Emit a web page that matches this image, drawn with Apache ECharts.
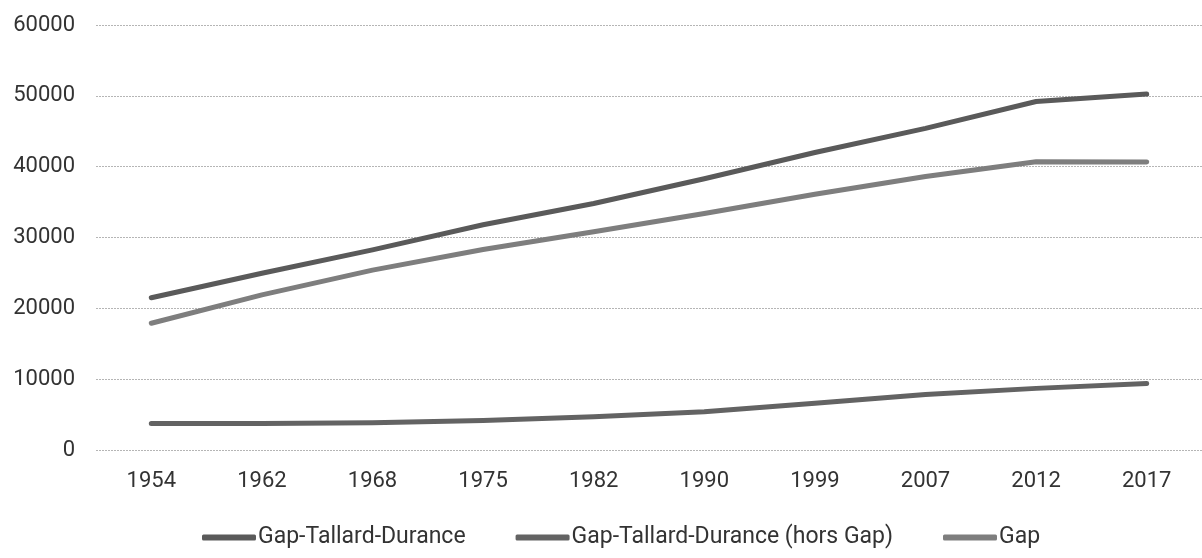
<!DOCTYPE html>
<html>
<head>
<meta charset="utf-8">
<script src="https://cdn.jsdelivr.net/npm/echarts@6/dist/echarts.min.js"></script>
<style>
html,body{margin:0;padding:0;background:#fff;}
#c{width:1202px;height:558px;}
</style>
</head>
<body>
<div id="c"></div>
<script>
const years = ['1954','1962','1968','1975','1982','1990','1999','2007','2012','2017'];
const gapTallardDurance = [21500, 24950, 28250, 31800, 34800, 38300, 42000, 45400, 49200, 50250];
const horsGap = [3750, 3750, 3850, 4150, 4700, 5400, 6600, 7850, 8700, 9400];
const gap = [17900, 21900, 25400, 28300, 30800, 33400, 36100, 38600, 40700, 40650];
const seriesNames = ['Gap-Tallard-Durance', 'Gap-Tallard-Durance (hors Gap)', 'Gap'];

const chart = echarts.init(document.getElementById('c'), null, {renderer:'canvas'});
const font = 'Roboto, "Open Sans", sans-serif';
function line(name, data, color){
  return {
    name, type:'line', data, symbol:'none', smooth:false,
    lineStyle:{width:5, color, cap:'round', join:'round'},
    itemStyle:{color},
    emphasis:{disabled:true}
  };
}
chart.setOption({
  animation:false,
  backgroundColor:'#fff',
  grid:{left:96, top:25, width:1117, height:425, containLabel:false},
  xAxis:{
    type:'category', data:years, boundaryGap:true,
    axisLine:{show:false}, axisTick:{show:false},
    axisLabel:{color:'#333', fontSize:22, fontFamily:font, margin:20}
  },
  yAxis:{
    type:'value', min:0, max:60000, interval:10000,
    axisLine:{show:false}, axisTick:{show:false},
    axisLabel:{color:'#333', fontSize:22, fontFamily:font, margin:21, formatter:function(v){return String(v);}},
    splitLine:{lineStyle:{color:'#b5b5b5', type:[2,1], width:1}}
  },
  legend:{
    left:197, top:521, itemGap:50, itemWidth:54, itemHeight:6, icon:'roundRect',
    textStyle:{color:'#333', fontSize:23, fontFamily:font, padding:[0,0,0,-3]},
    data:seriesNames
  },
  series:[
    line(seriesNames[0], gapTallardDurance, '#5a5a5a'),
    line(seriesNames[1], horsGap, '#636363'),
    line(seriesNames[2], gap, '#7e7e7e')
  ]
});
</script>
</body>
</html>
